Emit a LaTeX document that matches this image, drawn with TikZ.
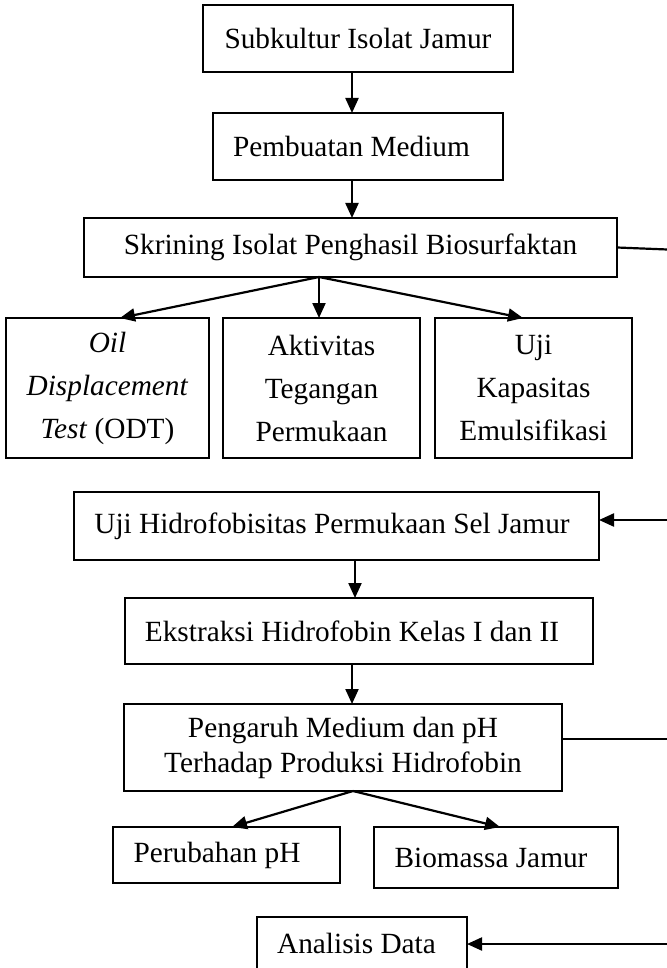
\documentclass[tikz,border=0pt]{standalone}
\usepackage{fontspec}
\setmainfont{Liberation Serif}
\usetikzlibrary{arrows.meta}
\newcommand{\shl}[1]{\rule{#1}{0pt}}
\begin{document}
\begin{tikzpicture}[x=0.5pt,y=-0.5pt,
  box/.style={draw=black,line width=0.75pt,rectangle,inner sep=0pt,outer sep=0pt,align=center,
    font=\fontsize{14.65}{17.5}\selectfont},
  rowbox/.style={box,font=\fontsize{14.65}{21.5}\selectfont,minimum height=70pt},
  arr/.style={line width=1.1pt,-{Triangle[length=7.5pt,width=6.5pt]}},
  ln/.style={line width=1.1pt}]
\useasboundingbox (0,0) rectangle (666,968);
\node[box,minimum width=155pt,minimum height=33.5pt] (b1) at (358,38.5) {Subkultur Isolat Jamur};
\node[box,minimum width=145pt,minimum height=33.5pt] (b2) at (358,146.5) {Pembuatan Medium\shl{6.5pt}};
\node[box,minimum width=266.5pt,minimum height=29.5pt] (skr) at (350.5,247.5) {Skrining Isolat Penghasil Biosurfaktan};
\node[rowbox,minimum width=101.5pt] (rA) at (107.5,388) {\textit{Oil}\\\textit{Displacement}\\\textit{Test} (ODT)};
\node[rowbox,minimum width=98.5pt] (rB) at (321.5,388) {Aktivitas\\Tegangan\\Permukaan};
\node[rowbox,minimum width=98.5pt] (rC) at (533.5,388) {Uji\\Kapasitas\\Emulsifikasi};
\node[box,minimum width=262.5pt,minimum height=34pt] (uji) at (336.5,526) {Uji Hidrofobisitas Permukaan Sel Jamur\shl{4.5pt}};
\node[box,minimum width=234pt,minimum height=33pt] (eks) at (359,631) {Ekstraksi Hidrofobin Kelas I dan II\shl{7pt}};
\node[box,minimum width=219pt,minimum height=43.5pt] (peng) at (343,747.5) {Pengaruh Medium dan pH\\Terhadap Produksi Hidrofobin};
\node[box,minimum width=113.5pt,minimum height=28pt] (per) at (226.5,855) {Perubahan pH\shl{9.5pt}};
\node[box,minimum width=122pt,minimum height=30.5pt] (bio) at (496,857.5) {Biomassa Jamur\shl{5pt}};
\node[box,minimum width=105pt,minimum height=26.5pt] (ana) at (362,943.5) {Analisis Data\shl{5.5pt}};
% helper coordinates
\coordinate (ax) at (352,0);
\coordinate (ax2) at (355,0);
\coordinate (spx) at (319,0);
\coordinate (tA) at (120,0);
\coordinate (tC) at (523,0);
\coordinate (sp2) at (353,0);
\coordinate (tP) at (232,0);
\coordinate (tB) at (500,0);
\coordinate (rt1) at (680,250);
\coordinate (rt2) at (680,520);
\coordinate (rt3) at (680,739);
\coordinate (rt4) at (680,944);
% connectors
\draw[arr] (b1.south -| ax) -- (b2.north -| ax);
\draw[arr] (b2.south -| ax) -- (skr.north -| ax);
\draw[arr] (skr.south -| spx) -- (rA.north -| tA);
\draw[arr] (skr.south -| spx) -- (rB.north -| spx);
\draw[arr] (skr.south -| spx) -- (rC.north -| tC);
\draw[ln] (skr.east) -- (rt1);
\draw[arr] (rt2) -- (uji.east |- rt2);
\draw[arr] (uji.south -| ax2) -- (eks.north -| ax2);
\draw[arr] (eks.south -| ax) -- (peng.north -| ax);
\draw[ln] (peng.east |- rt3) -- (rt3);
\draw[arr] (peng.south -| sp2) -- (per.north -| tP);
\draw[arr] (peng.south -| sp2) -- (bio.north -| tB);
\draw[arr] (rt4) -- (ana.east |- rt4);
\end{tikzpicture}
\end{document}
